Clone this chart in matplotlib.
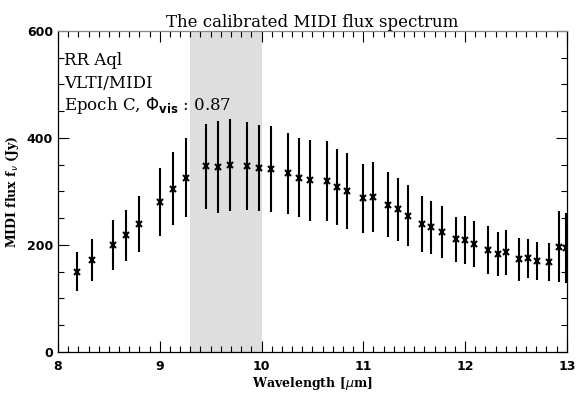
import matplotlib
matplotlib.use("Agg")
import matplotlib.pyplot as plt
from matplotlib.ticker import MultipleLocator

wavelength = [8.19, 8.33, 8.54, 8.67, 8.80, 9.00, 9.13, 9.26, 9.45, 9.57,
              9.69, 9.86, 9.98, 10.09, 10.26, 10.37, 10.48, 10.64, 10.74, 10.84,
              11.00, 11.10, 11.24, 11.34, 11.44, 11.58, 11.67, 11.77, 11.91, 12.00,
              12.09, 12.23, 12.32, 12.40, 12.53, 12.62, 12.71, 12.83, 12.92, 12.99]
flux = [150, 172, 200, 218, 239, 280, 305, 326, 347, 346,
        349, 347, 344, 342, 334, 326, 321, 319, 309, 300,
        287, 290, 275, 267, 255, 239, 233, 224, 211, 210,
        202, 191, 183, 186, 173, 175, 170, 168, 197, 194]
flux_err = [36, 39, 46, 48, 52, 63, 68, 74, 80, 86,
            86, 82, 80, 80, 76, 74, 76, 75, 71, 71,
            65, 65, 61, 59, 57, 52, 50, 48, 42, 45,
            43, 45, 41, 42, 40, 37, 36, 35, 66, 65]
band = [9.3, 10.0]

fig = plt.figure(figsize=(5.76, 3.97), dpi=100)
ax = fig.add_axes([0.1007, 0.1134, 0.8833, 0.8086])

ax.axvspan(band[0], band[1], color="#dedede", lw=0, zorder=0)
ax.errorbar(wavelength, flux, yerr=flux_err, fmt="x", color="black",
            ms=4, mew=1.5, elinewidth=1.5, capsize=0, zorder=3)

ax.set_xlim(8, 13)
ax.set_ylim(0, 600)
ax.xaxis.set_major_locator(MultipleLocator(1))
ax.xaxis.set_minor_locator(MultipleLocator(0.1))
ax.yaxis.set_major_locator(MultipleLocator(200))
ax.yaxis.set_minor_locator(MultipleLocator(50))
ax.tick_params(which="both", direction="in", top=True, right=True,
               labelsize=9, width=0.8)
ax.tick_params(which="major", length=8)
ax.tick_params(which="minor", length=4)
for lab in ax.get_xticklabels() + ax.get_yticklabels():
    lab.set_fontweight("bold")
ax.tick_params(axis="x", pad=6)

for s in ax.spines.values():
    s.set_linewidth(0.9)
ax.spines["top"].set_color("#888888")

serif = "DejaVu Serif"
ax.set_title("The calibrated MIDI flux spectrum", family=serif, fontsize=12, pad=3)
ax.set_xlabel(r"Wavelength [$\mu$m]", family=serif, fontsize=9, fontweight="bold",
              labelpad=1)
ax.set_ylabel(r"MIDI flux f$_\nu$ (Jy)", family=serif, fontsize=9, fontweight="bold")

ax.text(0.012, 0.893, "RR Aql", transform=ax.transAxes, family=serif, fontsize=12)
ax.text(0.012, 0.823, "VLTI/MIDI", transform=ax.transAxes, family=serif, fontsize=12)
ax.text(0.012, 0.753, r"Epoch C, $\Phi_{\mathbf{vis}}$ : 0.87", transform=ax.transAxes,
        family=serif, fontsize=12)

fig.savefig("out.png", dpi=100)
